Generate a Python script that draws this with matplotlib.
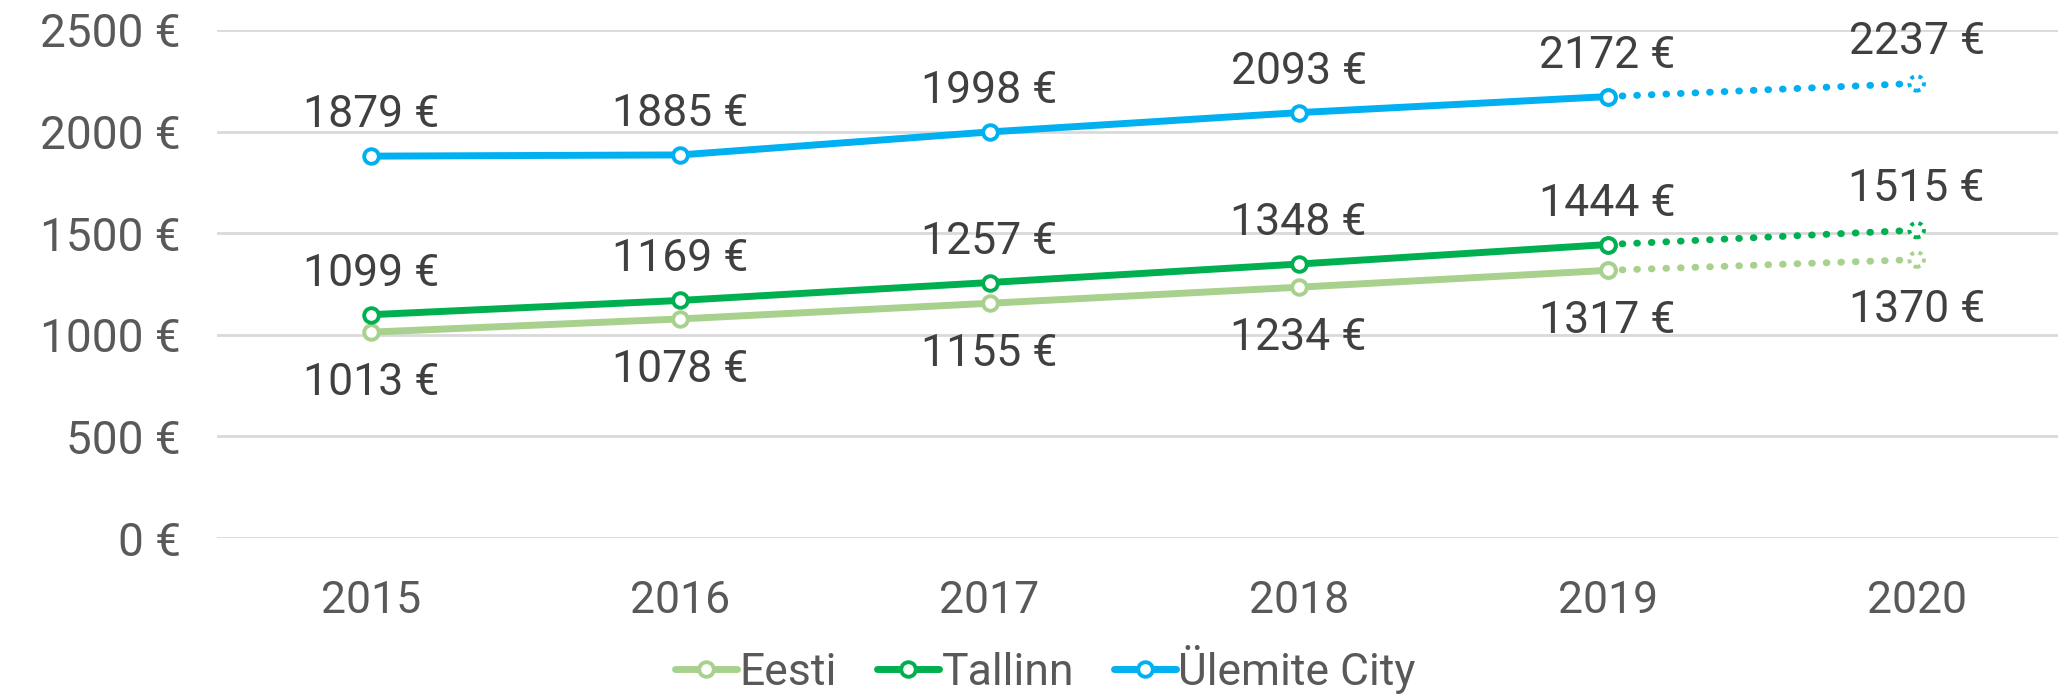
import matplotlib
matplotlib.use("Agg")
import matplotlib.pyplot as plt

years = ["2015", "2016", "2017", "2018", "2019", "2020"]
eesti = [1013, 1078, 1155, 1234, 1317, 1370]
tallinn = [1099, 1169, 1257, 1348, 1444, 1515]
ylemiste = [1879, 1885, 1998, 2093, 2172, 2237]
y_ticks = [0, 500, 1000, 1500, 2000, 2500]

plt.rcParams['font.family'] = ['Roboto', 'DejaVu Sans']
text_col = '#595959'

fig = plt.figure(figsize=(20.58, 6.96), dpi=100)
ax = fig.add_axes([0.1054, 0.227, 0.901, 0.730])

x = list(range(len(years)))
series = [
    ("Eesti", eesti, '#A9D18E', -1),
    ("Tallinn", tallinn, '#00B050', 1),
    ("Ülemite City", ylemiste, '#00B0F0', 1),
]

handles = []
for name, vals, col, side in series:
    # solid part up to 2019
    h, = ax.plot(x[:5], vals[:5], color=col, lw=5, marker='o', ms=10.5,
                 mfc='white', mec=col, mew=2.8, solid_capstyle='round', zorder=3)
    handles.append(h)
    # forecast part 2019 -> 2020
    ax.plot(x[4:], vals[4:], color=col, lw=5, linestyle=(0, (0.1, 2.0)),
            dash_capstyle='round', zorder=2)
    ax.scatter([x[5]], [vals[5]], s=110, facecolor='white', edgecolor=col,
               linewidths=2.8, linestyle=(0, (1, 1.2)), zorder=4)
    ax.plot(x[4], vals[4], marker='o', ms=10.5, mfc='white', mec=col, mew=2.8, zorder=5)
    off = 29.5 if side > 0 else -36.5
    for xi, v in zip(x, vals):
        ax.annotate(f"{v} €", (xi, v), xytext=(0, off), textcoords='offset points',
                    ha='center', va='center', fontsize=32, color='#404040')

ax.set_xlim(-0.5, 5.5)
ax.set_ylim(0, 2500)
ax.set_yticks(y_ticks)
ax.set_yticklabels([f"{t} €" for t in y_ticks])
ax.set_xticks(x)
ax.set_xticklabels(years)
ax.tick_params(length=0, labelsize=32, labelcolor=text_col)
ax.tick_params(axis='y', pad=26, labelsize=33)
ax.tick_params(axis='x', pad=30)
ax.grid(axis='y', color='#D9D9D9', lw=2)
ax.set_axisbelow(True)
for s in ax.spines.values():
    s.set_visible(False)

fig.legend(handles, [s[0] for s in series], loc='center', ncol=3, frameon=False,
           fontsize=32, labelcolor=text_col, bbox_to_anchor=(0.508, 0.038),
           handlelength=1.4, handletextpad=0.05, columnspacing=0.9,
           borderpad=0, borderaxespad=0)

fig.savefig("out.png", dpi=100)
